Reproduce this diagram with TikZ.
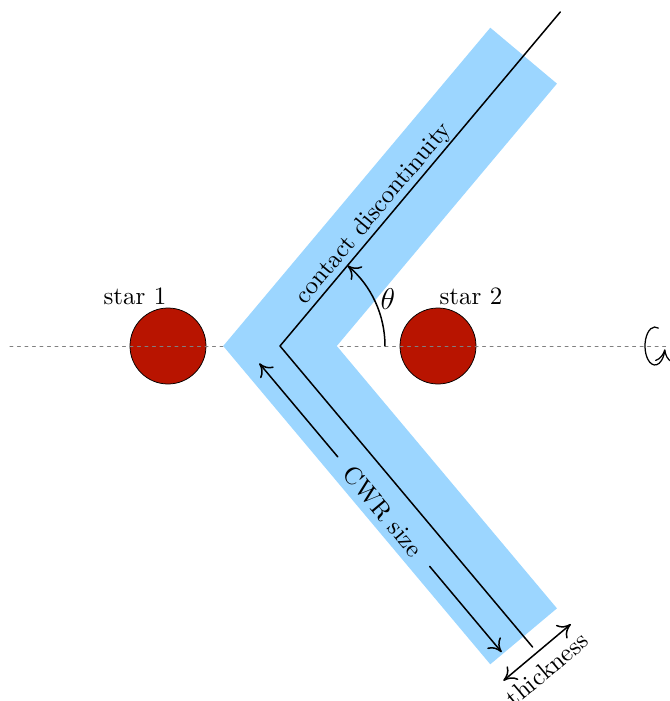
\documentclass[tikz,border=0pt]{standalone}
\usepackage{tikz}
\usetikzlibrary{arrows.meta}
\definecolor{windblue}{rgb}{0.61,0.84,1.0}
\definecolor{starred}{rgb}{0.72,0.08,0.0}
\begin{document}
\begin{tikzpicture}[line cap=round,line join=round,x=0.4pt,y=0.4pt,
  tip/.style={-{To[length=5pt,width=7pt]}},
  tips/.style={{To[length=5pt,width=7pt]}-{To[length=5pt,width=7pt]}}]
\useasboundingbox (-280,-355) rectangle (390,346);
% stars
\draw[fill=starred,line width=0.3pt] (-112,0) circle (38);
\draw[fill=starred,line width=0.3pt] (158,0) circle (38);
\node (lab1) at (-145,50) {star 1};
\node (lab2) at (191,50) {star 2};
% orbital axis
\draw[color=gray,dash pattern=on 1.2pt off 1.8pt] (-270,0) -- (390,0);
\draw[tip,line width=0.5pt] (375,0) ++(70:10 and 19) arc (70:350:10 and 19);
% colliding wind region
\draw[color=windblue,line width=34.8pt,line cap=butt,line join=miter] (50:379) -- (0,0) -- (-50:379);
\draw[line width=0.6pt] (50:436) -- (0,0) -- (-50:393);
\node[rotate=50,anchor=south,inner sep=0.5pt] (cd) at (50:162) {contact discontinuity};
% opening angle
\draw[tip,line width=0.6pt] (105,0) arc (0:50:105);
\node (th) at (108,47) {\large$\theta$};
% size and thickness
\begin{scope}[rotate=-50]
\draw[tip,line width=0.6pt] (122,-27) -- (0,-27);
\draw[tip,line width=0.6pt] (265,-27) -- (377,-27);
\node[rotate=-50] (size) at (193,-27) {CWR size};
\draw[tips,line width=0.6pt] (400,-44) -- (400,44);
\node[rotate=40] (thk) at (419,-3) {thickness};
\end{scope}
\end{tikzpicture}
\end{document}
